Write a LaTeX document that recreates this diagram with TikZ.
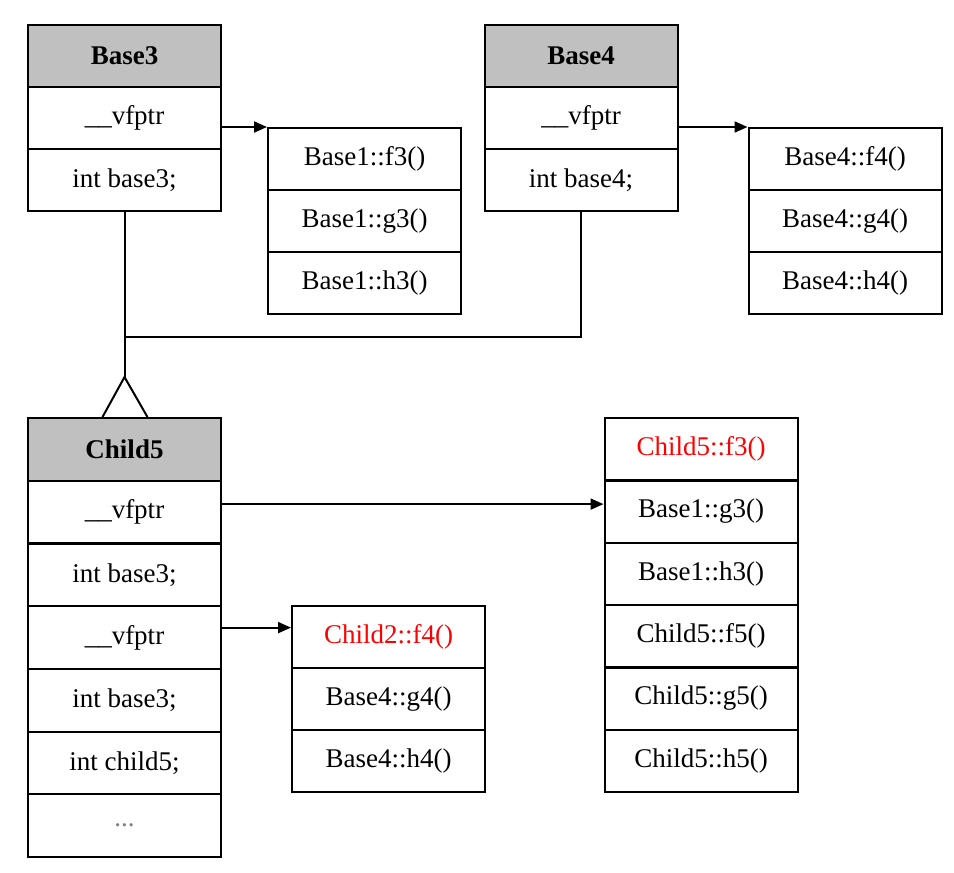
\documentclass[tikz,border=0pt]{standalone}
\usepackage{fontspec}
\setmainfont{Liberation Serif}
\usetikzlibrary{arrows.meta}
\definecolor{headgray}{RGB}{192,192,192}

\tikzset{
    cell/.style={draw, line width=2pt, minimum width=193pt, minimum height=62pt,
        inner sep=0pt, font=\fontsize{27}{31}\selectfont},
    head/.style={cell, fill=headgray, font=\fontsize{27}{31}\selectfont\bfseries},
    wide/.style={minimum height=62.7pt},
    hot/.style={text=red},
    ptr/.style={line width=2pt, -{Triangle[length=13pt,width=11pt]}},
    link/.style={line width=2pt}
}

\begin{document}
\begin{tikzpicture}[x=1pt,y=-1pt]
    \useasboundingbox (0,0) rectangle (954,873);
    %Base3 and its table
    \node[head] (b3h) at (124.5,56) {Base3};
    \node[cell] (b3v) at (124.5,118) {\_\_vfptr};
    \node[cell] (b3i) at (124.5,180) {int base3;};
    \node[cell] (b1f) at (364.5,159) {Base1::f3()};
    \node[cell] (b1g) at (364.5,221) {Base1::g3()};
    \node[cell] (b1h) at (364.5,283) {Base1::h3()};
    %Base4 and its table
    \node[head] (b4h) at (581,56) {Base4};
    \node[cell] (b4v) at (581,118) {\_\_vfptr};
    \node[cell] (b4i) at (581,180) {int base4;};
    \node[cell] (b4f) at (845,159) {Base4::f4()};
    \node[cell] (b4g) at (845,221) {Base4::g4()};
    \node[cell] (b4k) at (845,283) {Base4::h4()};
    %Child5
    \node[head,wide] (c5h) at (124.5,449.4) {Child5};
    \node[cell,wide] (c5v1) at (124.5,512.1) {\_\_vfptr};
    \node[cell,wide] (c5i1) at (124.5,574.9) {int base3;};
    \node[cell,wide] (c5v2) at (124.5,637.6) {\_\_vfptr};
    \node[cell,wide] (c5i2) at (124.5,700.3) {int base3;};
    \node[cell,wide] (c5c) at (124.5,763) {int child5;};
    \node[cell,wide] (c5d) at (124.5,825.7) {\textcolor{gray}{...}};
    %first table of Child5
    \node[cell,hot] (v5a) at (701,449.2) {Child5::f3()};
    \node[cell] (v5b) at (701,511.5) {Base1::g3()};
    \node[cell] (v5c) at (701,573.8) {Base1::h3()};
    \node[cell] (v5d) at (701,636.2) {Child5::f5()};
    \node[cell] (v5e) at (701,698.5) {Child5::g5()};
    \node[cell] (v5f) at (701,760.8) {Child5::h5()};
    %second table of Child5
    \node[cell,hot] (v2a) at (388.5,637) {Child2::f4()};
    \node[cell] (v2b) at (388.5,699) {Base4::g4()};
    \node[cell] (v2c) at (388.5,761) {Base4::h4()};

    \draw[ptr] (b3v.east |- b1f.north) -- (b1f.north west);
    \draw[ptr] (b4v.east |- b4f.north) -- (b4f.north west);
    \coordinate (p1) at ([yshift=8pt]c5v1.east);
    \draw[ptr] (p1) -- (p1 -| v5a.west);
    \coordinate (p2) at ([yshift=10pt]c5v2.east);
    \draw[ptr] (p2) -- (p2 -| v2a.west);

    %inheritance
    \coordinate (tip) at ([yshift=40pt]c5h.north);
    \draw[link] (b3i.south) -- (tip);
    \draw[link] (b4i.south) |- ([yshift=-125pt]b3i.south);
    \draw[link] ([xshift=-22pt]c5h.north) -- (tip) -- ([xshift=23pt]c5h.north);
\end{tikzpicture}
\end{document}
